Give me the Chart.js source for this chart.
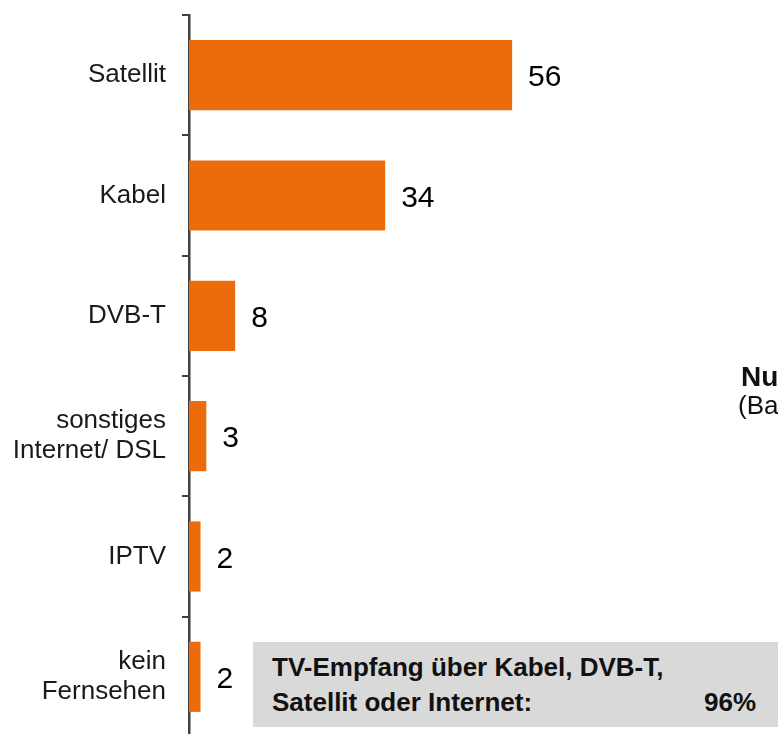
<!DOCTYPE html>
<html>
<head>
<meta charset="utf-8">
<script src="https://cdn.jsdelivr.net/npm/chart.js@4"></script>
<style>
  html, body { margin: 0; padding: 0; background: #fff; overflow: hidden; width: 778px; height: 734px; }
  #wrap { position: absolute; left: 0; top: 0; }
  .box { position: absolute; left: 253px; top: 642px; width: 560px; height: 85px; background: #d9d9d9;
         font: bold 26px "Liberation Sans", Arial, sans-serif; line-height: 35px; color: #111;
         padding-top: 8px; box-sizing: border-box; padding-left: 19px; white-space: nowrap; }
  .box .pct { position: absolute; left: 451px; top: 43px; }
  .note1 { position: absolute; left: 741px; top: 363px; font: bold 28px "Liberation Sans", Arial, sans-serif;
           line-height: 28px; color: #111; white-space: nowrap; }
  .note2 { position: absolute; left: 738px; top: 392px; font: 26px "Liberation Sans", Arial, sans-serif;
           line-height: 26px; color: #111; white-space: nowrap; }
</style>
</head>
<body>
<div id="wrap"><canvas id="chart" width="778" height="745"></canvas></div>
<div class="box"><div id="boxLine1"></div><div id="boxLine2"></div><span class="pct" id="boxPct"></span></div>
<div class="note1" id="note1"></div>
<div class="note2" id="note2"></div>
<script>
var categories = ['Satellit', 'Kabel', 'DVB-T', ['sonstiges', 'Internet/ DSL'], 'IPTV', ['kein', 'Fernsehen']];
var values = [56, 34, 8, 3, 2, 2];
var boxLines = ['TV-Empfang über Kabel, DVB-T,', 'Satellit oder Internet:'];
var boxValue = '96%';
var noteLines = ['Nutzer', '(Basis'];

var barColor = 'rgb(236,108,12)';
var axisColor = '#404040';
var font = '"Liberation Sans", Arial, sans-serif';

document.getElementById('boxLine1').textContent = boxLines[0];
document.getElementById('boxLine2').textContent = boxLines[1];
document.getElementById('boxPct').textContent = boxValue;
document.getElementById('note1').textContent = noteLines[0];
document.getElementById('note2').textContent = noteLines[1];

// value labels right of each bar
var valueLabels = {
  id: 'valueLabels',
  afterDatasetsDraw: function(chart){
    var ctx = chart.ctx;
    var meta = chart.getDatasetMeta(0);
    ctx.save();
    ctx.font = '30px ' + font;
    ctx.fillStyle = '#000';
    ctx.textAlign = 'left';
    ctx.textBaseline = 'middle';
    meta.data.forEach(function(bar, i){
      ctx.fillText(values[i], bar.x + 16, bar.y + 3);
    });
    ctx.restore();
  }
};

var chart = new Chart(document.getElementById('chart').getContext('2d'), {
  type: 'bar',
  data: {
    labels: categories,
    datasets: [{
      data: values,
      backgroundColor: barColor,
      borderWidth: 0,
      barPercentage: 0.583,
      categoryPercentage: 1
    }]
  },
  options: {
    indexAxis: 'y',
    responsive: false,
    animation: false,
    devicePixelRatio: 1,
    layout: { padding: { top: 15, bottom: 8, left: 0, right: 12 } },
    plugins: { legend: { display: false }, tooltip: { enabled: false } },
    scales: {
      x: { display: false, min: 0, max: 100 },
      y: {
        z: 1,
        afterFit: function(scale){
          scale.width = 189;
          scale.paddingTop = 0;
          scale.paddingBottom = 0;
        },
        border: { display: true, color: axisColor, width: 2.5 },
        grid: { drawOnChartArea: false, drawTicks: true, tickLength: 7, color: axisColor, lineWidth: 2, offset: true },
        ticks: { color: '#1a1a1a', padding: 16, font: { family: font, size: 26, lineHeight: 1.15 } }
      }
    }
  },
  plugins: [valueLabels]
});
</script>
</body>
</html>
